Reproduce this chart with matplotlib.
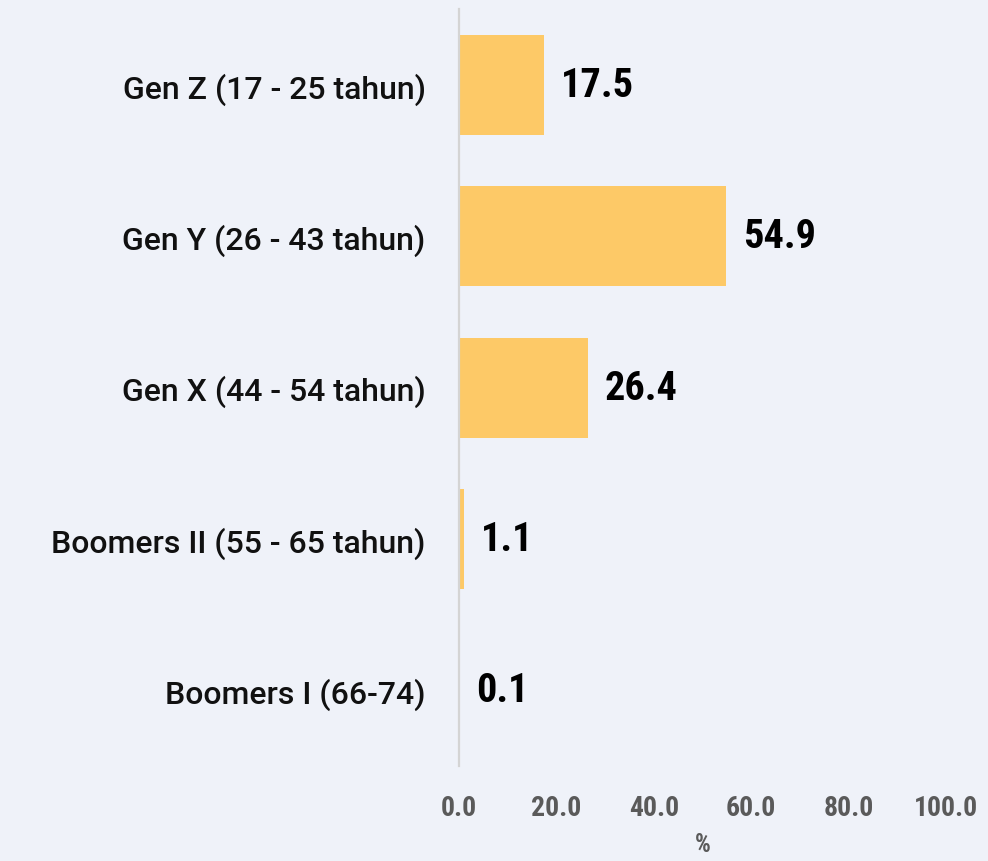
import matplotlib
matplotlib.use("Agg")
import matplotlib.pyplot as plt
from matplotlib import font_manager

categories = ["Gen Z (17 - 25 tahun)", "Gen Y (26 - 43 tahun)", "Gen X (44 - 54 tahun)",
              "Boomers II (55 - 65 tahun)", "Boomers I (66-74)"]
values = [17.5, 54.9, 26.4, 1.1, 0.1]
xticks = [0, 20, 40, 60, 80, 100]
xtick_labels = ["0.0", "20.0", "40.0", "60.0", "80.0", "100.0"]

names = {f.name for f in font_manager.fontManager.ttflist}
narrow = None
for cand in ["Roboto Condensed", "Liberation Sans Narrow", "DejaVu Sans Condensed"]:
    if cand in names:
        narrow = cand
        break
base = "Roboto"
val_font = narrow if narrow else "DejaVu Sans"

BG = "#eff2f9"
BAR = "#fdc967"

fig = plt.figure(figsize=(9.88, 8.62), dpi=100, facecolor=BG)
ax = fig.add_axes([0.4646, 0.110, 0.4929, 0.878], facecolor=BG)

y = list(range(len(categories)))
ax.barh(y, values, height=0.66, color=BAR)
ax.set_ylim(len(categories) - 0.5, -0.5)
ax.set_xlim(0, 100)

for yi, v in zip(y, values):
    ax.annotate(f"{v:.1f}", xy=(v, yi), xytext=(12, 0), textcoords="offset points",
                va="center", ha="left", fontsize=29, fontweight="bold",
                family=val_font, color="#000000")

ax.set_yticks(y)
ax.set_yticklabels(categories, family=base, fontsize=23, fontweight="medium", color="#111111")
ax.set_xticks(xticks)
ax.set_xticklabels(xtick_labels, family=val_font, fontsize=20, fontweight="bold", color="#5a5a5a")
ax.tick_params(axis="both", length=0)
ax.tick_params(axis="x", pad=20)
ax.tick_params(axis="y", pad=24)
ax.set_xlabel("%", family=val_font, fontsize=18, fontweight="bold", color="#5a5a5a", labelpad=8)

for s in ["top", "right", "bottom"]:
    ax.spines[s].set_visible(False)
ax.spines["left"].set_color("#d4d4d4")
ax.spines["left"].set_linewidth(1.6)

fig.savefig("out.png", dpi=100, facecolor=BG)
